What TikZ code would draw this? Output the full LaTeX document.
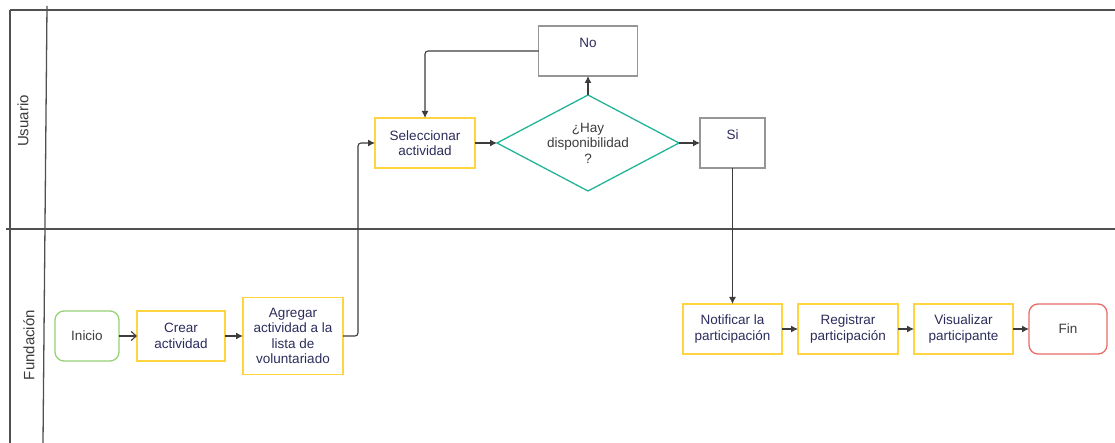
\documentclass[tikz,border=0pt]{standalone}
\usepackage{fontspec}
\setmainfont{Liberation Sans}
\usetikzlibrary{positioning,shapes.geometric,arrows.meta}

\definecolor{boxyellow}{RGB}{255,212,64}
\definecolor{startgreen}{RGB}{151,208,119}
\definecolor{endred}{RGB}{234,107,102}
\definecolor{decteal}{RGB}{34,180,150}
\definecolor{ansgray}{RGB}{150,150,150}
\definecolor{navytext}{RGB}{44,44,92}
\definecolor{darktext}{RGB}{60,60,60}
\definecolor{laneline}{RGB}{80,80,80}

\tikzset{
  every node/.style={outer sep=0pt},
  proc/.style={draw=boxyellow, line width=1.3pt, inner sep=0pt, minimum height=50pt,
    align=center, text=navytext, font=\fontsize{13.5}{15.5}\selectfont},
  term/.style={draw=#1, line width=1.3pt, rounded corners=9pt, inner sep=0pt,
    minimum height=50pt, text=darktext, font=\fontsize{13.5}{15.5}\selectfont},
  decision/.style={diamond, draw=decteal, line width=1.3pt, inner sep=0pt, aspect=1.9,
    minimum width=182pt, minimum height=96pt, align=center, text=darktext,
    font=\fontsize{13.5}{15.5}\selectfont},
  answer/.style={draw=ansgray, line width=1.3pt, inner sep=0pt, minimum height=50pt,
    text height=10pt, text depth=16pt, text=navytext, font=\fontsize{13.5}{15.5}\selectfont},
  lane/.style={draw=laneline, line width=1.3pt},
  lanelabel/.style={rotate=90, text=darktext, font=\fontsize{15}{17}\selectfont},
  flow/.style={draw=darktext, line width=1.1pt, rounded corners=3pt,
    -{Latex[length=7pt,width=7pt]}},
  openflow/.style={draw=darktext, line width=1.1pt, -{Straight Barb[length=5pt,width=9pt]}}
}

\begin{document}
\begin{tikzpicture}[x=1pt,y=1pt]
\useasboundingbox (0,0) rectangle (1115,-443);

%% swimlanes
\draw[lane] (10,-10) -- (1115,-10);
\draw[lane] (10,-10) -- (10,-443);
\draw[lane] (47,-6) -- (43,-443);
\draw[lane] (6,-229) -- (1115,-229);
\node[lanelabel](lane_usuario) at (23,-121){Usuario};
\node[lanelabel](lane_fundacion) at (29,-345){Fundación};

%% Fundacion: start
\node[term=startgreen, minimum width=64pt](inicio) at (87,-336){Inicio};
\node[proc, minimum width=88pt, right=18pt of inicio](crear){Crear\\actividad};
\node[proc, minimum width=100pt, minimum height=77pt, right=18pt of crear](agregar){Agregar\\actividad a la\\lista de\\voluntariado};

%% Usuario
\node[proc, minimum width=100pt](seleccionar) at (425,-143){Seleccionar\\actividad};
\node[decision, right=22pt of seleccionar](hay){¿Hay\\disponibilidad\\?};
\node[answer, minimum width=99pt, above=19pt of hay](no){No};
\node[answer, minimum width=65pt, right=21pt of hay](si){Si};

%% Fundacion: end
\node[proc, minimum width=99pt, below=136pt of si](notificar){Notificar la\\participación};
\node[proc, minimum width=100pt, right=16pt of notificar](registrar){Registrar\\participación};
\node[proc, minimum width=99pt, right=16pt of registrar](visualizar){Visualizar\\participante};
\node[term=endred, minimum width=78pt, right=16pt of visualizar](fin){Fin};

%% flow
\draw[openflow] (inicio) -- (crear);
\draw[flow] (crear) -- (agregar);
\draw[flow] (agregar.east) -- ++(15,0) |- (seleccionar.west);
\draw[flow] (seleccionar) -- (hay);
\draw[flow] (hay.north) -- (no.south);
\draw[flow] (no.west) -| (seleccionar.north);
\draw[flow] (hay.east) -- (si.west);
\draw[flow] (si.south) -- (notificar.north);
\draw[flow] (notificar) -- (registrar);
\draw[flow] (registrar) -- (visualizar);
\draw[flow] (visualizar) -- (fin);

\end{tikzpicture}
\end{document}
